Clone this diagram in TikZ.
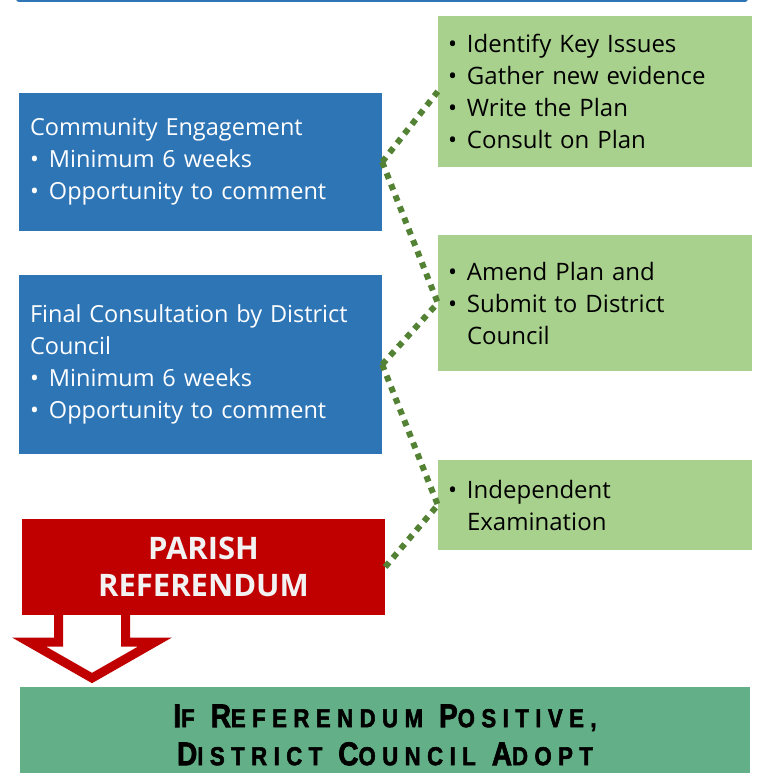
\documentclass[tikz,border=0pt]{standalone}
\usepackage{fontspec}
\setmainfont{Open Sans}
\newfontfamily\adoptfont[FakeStretch=0.85,FakeBold=2,LetterSpace=25]{Liberation Sans}

\definecolor{stageblue}{HTML}{2E75B6}
\definecolor{taskgreen}{HTML}{A9D18E}
\definecolor{linkgreen}{HTML}{548235}
\definecolor{voteRed}{HTML}{C00000}
\definecolor{adoptgreen}{HTML}{63AF87}

\newcommand\bul{\makebox[19pt][l]{•}}
\newcommand\capword[2]{#1{\fontsize{26}{38}\selectfont #2}}

\begin{document}
\begin{tikzpicture}[x=1pt, y=-1pt,
    stage/.style={rectangle, inner ysep=0pt, inner xsep=11pt, align=left,
      fill=stageblue, text=white, minimum width=363pt, text width=341pt,
      font=\fontsize{23.5}{32}\selectfont},
    task/.style={rectangle, inner ysep=0pt, inner xsep=10pt, align=left,
      fill=taskgreen, text=black, minimum width=314pt, text width=294pt,
      font=\fontsize{24}{32}\selectfont},
    link/.style={draw=linkgreen, line width=6pt, dash pattern=on 6pt off 6pt}]
  \useasboundingbox (0,0) rectangle (758,773);
  \clip (0,0) rectangle (758,773);

  % Top bar (box above, cut off)
  \fill[stageblue, rounded corners=3pt] (16,-10) rectangle (748,2);

  % Stages on the left
  \node[stage, minimum height=138pt] (engage) at (200.5,162)
    {Community Engagement\\ \bul Minimum 6 weeks\\ \bul Opportunity to comment};
  \node[stage, minimum height=179pt] (final) at (200.5,364.5)
    {Final Consultation by District\\ Council\\ \bul Minimum 6 weeks\\ \bul Opportunity to comment};

  % Tasks on the right
  \node[task, minimum height=151pt] (issues) at (595,91.5)
    {\bul Identify Key Issues\\ \bul Gather new evidence\\ \bul Write the Plan\\ \bul Consult on Plan};
  \node[task, minimum height=136pt] (submit) at (595,303)
    {\bul Amend Plan and\\ \bul Submit to District\\ \hspace*{19pt}Council};
  \node[task, minimum height=90pt] (exam) at (595,505)
    {\bul Independent\\ \hspace*{19pt}Examination};

  % Hollow arrow
  \draw[voteRed, line width=9pt, fill=white, line join=miter]
    (58.5,614) -- (58.5,642) -- (29,642) -- (92,678) -- (155,642)
    -- (125.5,642) -- (125.5,614);

  % Referendum
  \node[rectangle, fill=voteRed, text=white!95!black, align=center,
    minimum width=363pt, minimum height=96pt, inner sep=0pt,
    font=\bfseries\fontsize{31}{37}\selectfont] (vote) at (203.5,567)
    {PARISH\\ REFERENDUM};

  % Adoption
  \node[rectangle, fill=adoptgreen, align=center, minimum width=730pt,
    minimum height=96pt, inner sep=0pt,
    font=\adoptfont\bfseries\fontsize{33}{38}\selectfont] (adopt) at (385,735)
    {\capword{I}{F} \capword{R}{EFERENDUM} \capword{P}{OSITIVE,}\\
     \capword{D}{ISTRICT} \capword{C}{OUNCIL} \capword{A}{DOPT}};

  % Dotted links
  \draw[link] (engage.east) -- (issues.west);
  \draw[link] (engage.east) -- (submit.west);
  \draw[link] (final.east) -- (submit.west);
  \draw[link] (final.east) -- (exam.west);
  \draw[link] (vote.east) -- (exam.west);
\end{tikzpicture}
\end{document}
